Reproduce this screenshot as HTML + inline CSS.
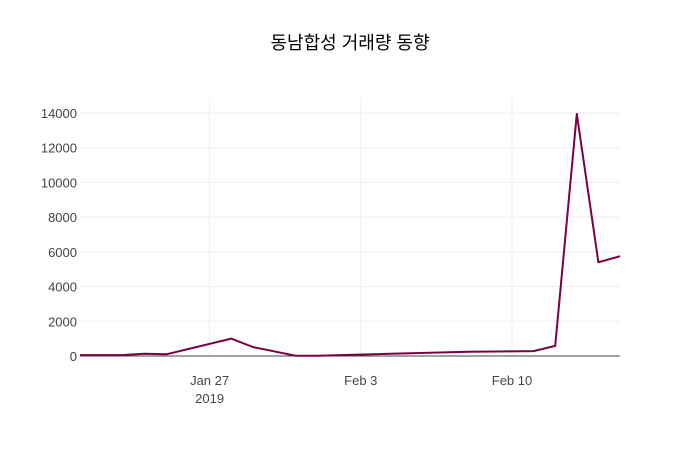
<!DOCTYPE html>
<html><head><meta charset="utf-8"><style>
body{margin:0;background:#fff;font-family:"Liberation Sans","Noto Sans CJK KR",sans-serif;}
</style></head><body>
<svg width="700" height="450" xmlns="http://www.w3.org/2000/svg">
<rect width="700" height="450" fill="#fff"/>
<text x="350" y="49" text-anchor="middle" font-size="18" font-family="Liberation Sans, Noto Sans CJK KR, sans-serif" fill="#000">동남합성 거래량 동향</text>
<g id="grid"></g><g id="axes"></g><g id="series"></g>
</svg>
<script>
const dayOffsets=[0,2,3,4,7,8,10,11,18,21,22,23,24,25];
const volumes=[50,60,130,100,1000,520,10,20,250,280,580,13950,5400,5750];
const yTicks=[0,2000,4000,6000,8000,10000,12000,14000];
const xTickDays=[6,13,20];
const xTickLabels=["Jan 27","Feb 3","Feb 10"];
const NS="http://www.w3.org/2000/svg";
const x0=80,x1=620,yBase=356,yTop=113;
const xs=d=>x0+d*(x1-x0)/25;
const ys=v=>yBase-v*(yBase-yTop)/14000;
function mk(t,a,p){const e=document.createElementNS(NS,t);for(const k in a)e.setAttribute(k,a[k]);p.appendChild(e);return e;}
const grid=document.getElementById('grid'),axes=document.getElementById('axes'),ser=document.getElementById('series');
yTicks.forEach(v=>{
  if(v>0){const l=mk('line',{x1:x0,x2:x1,y1:ys(v),y2:ys(v),stroke:'#eee'},grid);
  
  }
  const t=mk('text',{x:x0-3,y:ys(v)+5,'text-anchor':'end','font-size':13,fill:'#444'},axes);
  t.textContent=v;
  
  
});
xTickDays.forEach((d,i)=>{
  const l=mk('line',{x1:xs(d),x2:xs(d),y1:98,y2:yBase,stroke:'#eee'},grid);
  
  
  const t=mk('text',{x:xs(d),y:385,'text-anchor':'middle','font-size':13,fill:'#444'},axes);
  t.textContent=xTickLabels[i];
  
  
});
const yr=mk('text',{x:xs(6),y:403,'text-anchor':'middle','font-size':13,fill:'#444'},axes);
yr.textContent='2019';


const zl=mk('line',{x1:x0,x2:x1,y1:yBase,y2:yBase,stroke:'#444'},axes);


const pts=dayOffsets.map((d,i)=>xs(d).toFixed(1)+','+ys(volumes[i]).toFixed(1)).join(' ');
const pl=mk('polyline',{points:pts,fill:'none',stroke:'#7b0041','stroke-width':2,'stroke-linejoin':'round'},ser);


</script>
</body></html>
